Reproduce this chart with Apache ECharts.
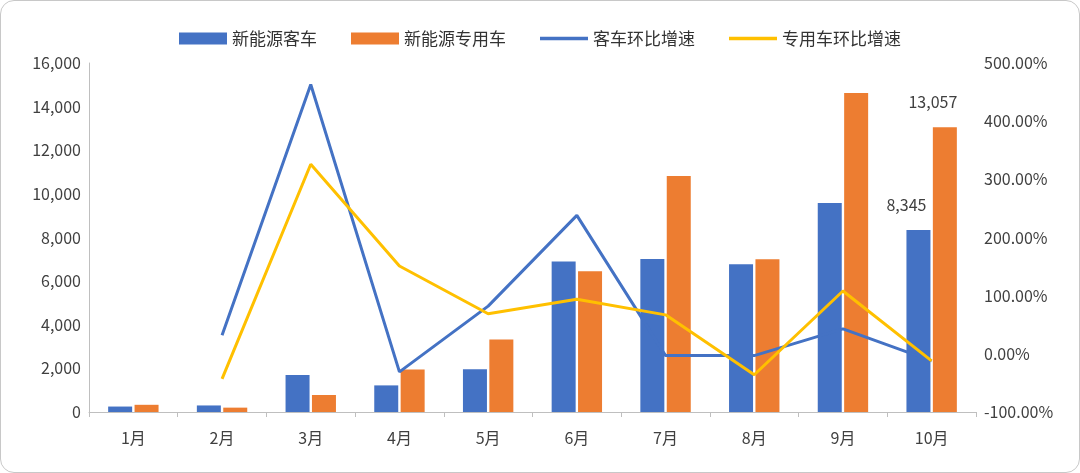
<!DOCTYPE html>
<html>
<head>
<meta charset="utf-8">
<script src="https://cdn.jsdelivr.net/npm/echarts@6/dist/echarts.min.js"></script>
<style>
html, body { margin: 0; padding: 0; background: #fff; }
#chart { width: 1078px; height: 471px; border: 1px solid #c8c8c8; border-radius: 14px; }
</style>
</head>
<body>
<div id="chart"></div>
<script>
var months = ['1月', '2月', '3月', '4月', '5月', '6月', '7月', '8月', '9月', '10月'];
var busSales = [250, 300, 1700, 1220, 1960, 6900, 7020, 6770, 9580, 8345];
var specialSales = [330, 200, 780, 1950, 3320, 6450, 10820, 7000, 14620, 13057];
var busMoM = [null, 32, 463, -31, 82, 238, -3, -3, 43, -12];
var specialMoM = [null, -43, 326, 151, 69, 94, 67, -36, 108, -12];

var font = 'Noto Sans CJK SC';
var lineIcon = 'path://M0,0L40,0L40,3L0,3Z';
var ec = echarts.init(document.getElementById('chart'));

function lastLabel(p) {
    return p.dataIndex === months.length - 1 ? p.value.toLocaleString('en-US') : '';
}

ec.setOption({
    textStyle: { fontFamily: font },
    legend: {
        top: 24,
        itemWidth: 48,
        itemHeight: 12,
        itemGap: 34,
        textStyle: { fontSize: 17, color: '#333' },
        data: [
            { name: '新能源客车', icon: 'rect' },
            { name: '新能源专用车', icon: 'rect' },
            { name: '客车环比增速', icon: lineIcon },
            { name: '专用车环比增速', icon: lineIcon }
        ]
    },
    grid: { left: 88, right: 103, top: 62, bottom: 60 },
    xAxis: {
        type: 'category',
        data: months,
        axisLine: { lineStyle: { color: '#bfbfbf' } },
        axisTick: { show: true, lineStyle: { color: '#bfbfbf' } },
        axisLabel: { fontSize: 16, color: '#404040', margin: 18 }
    },
    yAxis: [
        {
            type: 'value', min: 0, max: 16000, interval: 2000,
            axisLine: { show: true, lineStyle: { color: '#bfbfbf' } },
            splitLine: { show: false },
            axisLabel: { fontSize: 16, color: '#404040',
                formatter: function (v) { return v.toLocaleString('en-US'); } }
        },
        {
            type: 'value', min: -100, max: 500, interval: 100,
            axisLine: { show: false },
            splitLine: { show: false },
            axisLabel: { fontSize: 16, color: '#404040',
                formatter: function (v) { return v.toFixed(2) + '%'; } }
        }
    ],
    series: [
        {
            name: '新能源客车', type: 'bar', data: busSales, barWidth: 24, barGap: '10%',
            itemStyle: { color: '#4472c4' },
            label: { show: true, position: 'top', fontSize: 16, color: '#404040', offset: [-12, -12], formatter: lastLabel }
        },
        {
            name: '新能源专用车', type: 'bar', data: specialSales, barWidth: 24,
            itemStyle: { color: '#ed7d31' },
            label: { show: true, position: 'top', fontSize: 16, color: '#404040', offset: [-12, -12], formatter: lastLabel }
        },
        {
            name: '客车环比增速', type: 'line', yAxisIndex: 1, data: busMoM,
            symbol: 'none', lineStyle: { color: '#4472c4', width: 3 }, itemStyle: { color: '#4472c4' }
        },
        {
            name: '专用车环比增速', type: 'line', yAxisIndex: 1, data: specialMoM,
            symbol: 'none', lineStyle: { color: '#ffc000', width: 3 }, itemStyle: { color: '#ffc000' }
        }
    ]
});
</script>
</body>
</html>
